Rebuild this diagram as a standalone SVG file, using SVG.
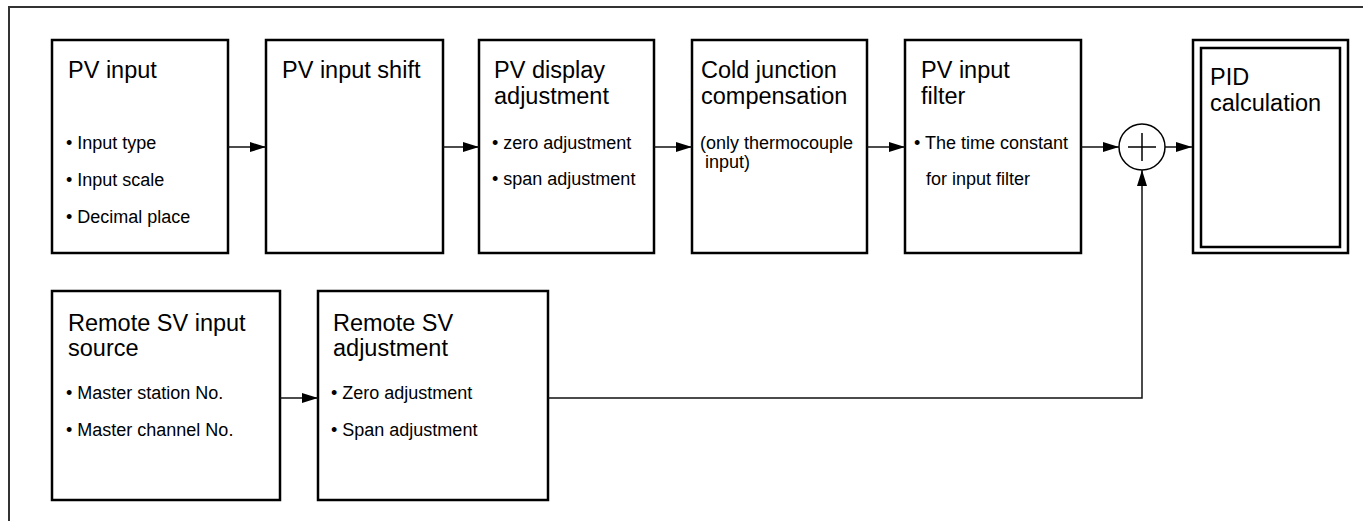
<svg xmlns="http://www.w3.org/2000/svg" width="1363" height="521" viewBox="0 0 1363 521">
<style>
.box{fill:#fff;stroke:#000;stroke-width:2.5}
.t{font-family:"Liberation Sans",Arial,sans-serif;font-size:23.5px;fill:#000}
.b{font-family:"Liberation Sans",Arial,sans-serif;font-size:18px;fill:#000}
.c{fill:none;stroke:#111;stroke-width:1.5}
.frame{fill:none;stroke:#333;stroke-width:2}
</style>
<defs>
<marker id="ah" viewBox="0 0 16 10" refX="16" refY="5" markerWidth="16" markerHeight="10" markerUnits="userSpaceOnUse" orient="auto">
<path d="M0,0 L16,5 L0,10 Z" fill="#000"/>
</marker>
</defs>
<rect width="1363" height="521" fill="#fff"/>
<path class="frame" d="M9,521 V7 H1363"/>
<g id="pv-input">
<rect class="box" x="52" y="40" width="176" height="213"/>
<text class="t" x="68" y="78">PV input</text>
<text class="b" x="66" y="149">• Input type</text>
<text class="b" x="66" y="186">• Input scale</text>
<text class="b" x="66" y="223">• Decimal place</text>
</g>
<g id="pv-input-shift">
<rect class="box" x="266" y="40" width="177" height="213"/>
<text class="t" x="282" y="78">PV input shift</text>
</g>
<g id="pv-display-adjustment">
<rect class="box" x="479" y="40" width="175" height="213"/>
<text class="t" x="494" y="78">PV display</text>
<text class="t" x="494" y="104">adjustment</text>
<text class="b" x="492" y="149">• zero adjustment</text>
<text class="b" x="492" y="185">• span adjustment</text>
</g>
<g id="cold-junction">
<rect class="box" x="692" y="40" width="175" height="213"/>
<text class="t" x="701" y="78">Cold junction</text>
<text class="t" x="701" y="104">compensation</text>
<text class="b" x="700" y="149">(only thermocouple</text>
<text class="b" x="705" y="168">input)</text>
</g>
<g id="pv-input-filter">
<rect class="box" x="905" y="40" width="176" height="213"/>
<text class="t" x="921" y="78">PV input</text>
<text class="t" x="921" y="104">filter</text>
<text class="b" x="914" y="149">• The time constant</text>
<text class="b" x="926" y="185">for input filter</text>
</g>
<g id="sum">
<circle cx="1142" cy="147" r="23" fill="#fff" stroke="#000" stroke-width="1.5"/>
<path d="M1128,147 H1156 M1142,133 V161" stroke="#000" stroke-width="1.5"/>
</g>
<g id="pid-calculation">
<rect class="box" x="1193" y="40" width="155" height="213"/>
<rect class="box" x="1201" y="48" width="139" height="199"/>
<text class="t" x="1210" y="85">PID</text>
<text class="t" x="1210" y="111">calculation</text>
</g>
<g id="remote-sv-input-source">
<rect class="box" x="52" y="291" width="228" height="209"/>
<text class="t" x="68" y="331">Remote SV input</text>
<text class="t" x="68" y="356">source</text>
<text class="b" x="66" y="399">• Master station No.</text>
<text class="b" x="66" y="436">• Master channel No.</text>
</g>
<g id="remote-sv-adjustment">
<rect class="box" x="318" y="291" width="230" height="209"/>
<text class="t" x="333" y="331">Remote SV</text>
<text class="t" x="333" y="356">adjustment</text>
<text class="b" x="331" y="399">• Zero adjustment</text>
<text class="b" x="331" y="436">• Span adjustment</text>
</g>
<g id="connectors">
<path class="c" d="M228,147 H266" marker-end="url(#ah)"/>
<path class="c" d="M443,147 H479" marker-end="url(#ah)"/>
<path class="c" d="M654,147 H692" marker-end="url(#ah)"/>
<path class="c" d="M867,147 H905" marker-end="url(#ah)"/>
<path class="c" d="M1081,147 H1119" marker-end="url(#ah)"/>
<path class="c" d="M1165,147 H1192" marker-end="url(#ah)"/>
<path class="c" d="M280,398 H318" marker-end="url(#ah)"/>
<path class="c" d="M548,398 H1142 V170" marker-end="url(#ah)"/>
</g>
</svg>
